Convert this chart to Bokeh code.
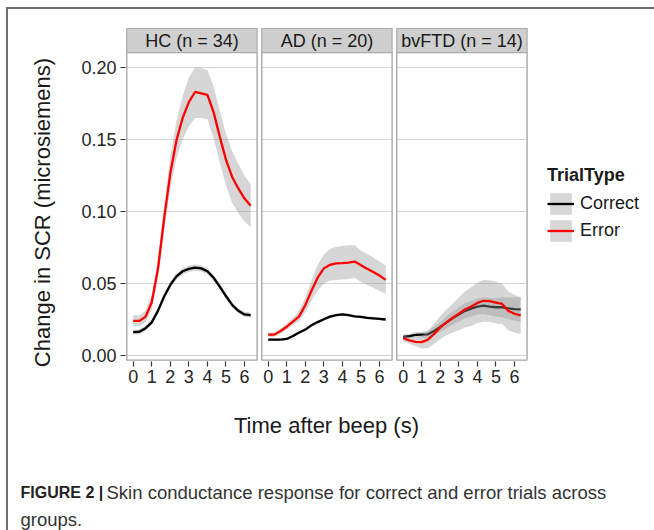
from math import pi
from bokeh.plotting import figure
from bokeh.models import (Range1d, FixedTicker, NumeralTickFormatter, Legend, LegendItem, Label)
from bokeh.embed import file_html
from bokeh.resources import INLINE
from bokeh.core.properties import value

FONT = "Liberation Sans"

# ---------------- data ----------------
time_s = [0.0, 0.333, 0.667, 1.0, 1.333, 1.667, 2.0, 2.333, 2.667, 3.0,
          3.333, 3.667, 4.0, 4.333, 4.667, 5.0, 5.333, 5.667, 6.0, 6.333]
groups = ["HC (n = 34)", "AD (n = 20)", "bvFTD (n = 14)"]
trial_types = ["Correct", "Error"]
y_ticks = [0.0, 0.05, 0.10, 0.15, 0.20]
x_ticks = [0, 1, 2, 3, 4, 5, 6]

hc_correct = [0.0163, 0.0165, 0.0190, 0.0230, 0.0310, 0.0410, 0.0490, 0.0550, 0.0585, 0.0602,
              0.0610, 0.0605, 0.0585, 0.0540, 0.0478, 0.0413, 0.0352, 0.0310, 0.0285, 0.0280]
hc_correct_lo = [0.0145, 0.0147, 0.0171, 0.0211, 0.0290, 0.0389, 0.0468, 0.0528, 0.0563, 0.0580,
                 0.0588, 0.0583, 0.0563, 0.0519, 0.0458, 0.0394, 0.0334, 0.0292, 0.0267, 0.0262]
hc_correct_hi = [0.0181, 0.0183, 0.0209, 0.0249, 0.0330, 0.0431, 0.0512, 0.0572, 0.0607, 0.0624,
                 0.0632, 0.0627, 0.0607, 0.0561, 0.0498, 0.0432, 0.0370, 0.0328, 0.0303, 0.0298]

hc_error = [0.0240, 0.0240, 0.0270, 0.0370, 0.0600, 0.0950, 0.1265, 0.1495, 0.1650, 0.1760,
            0.1830, 0.1820, 0.1810, 0.1690, 0.1520, 0.1360, 0.1240, 0.1160, 0.1090, 0.1040]
hc_error_lo = [0.0205, 0.0205, 0.0230, 0.0320, 0.0530, 0.0860, 0.1160, 0.1370, 0.1500, 0.1590,
               0.1650, 0.1650, 0.1640, 0.1510, 0.1340, 0.1180, 0.1060, 0.0990, 0.0930, 0.0890]
hc_error_hi = [0.0280, 0.0280, 0.0310, 0.0420, 0.0670, 0.1040, 0.1380, 0.1630, 0.1800, 0.1930,
               0.2000, 0.1995, 0.1985, 0.1870, 0.1700, 0.1540, 0.1420, 0.1330, 0.1250, 0.1190]

ad_correct = [0.0110, 0.0110, 0.0110, 0.0115, 0.0135, 0.0160, 0.0180, 0.0210, 0.0232, 0.0252,
              0.0270, 0.0280, 0.0285, 0.0280, 0.0272, 0.0268, 0.0262, 0.0258, 0.0254, 0.0250]
ad_correct_lo = [0.0102, 0.0102, 0.0102, 0.0107, 0.0127, 0.0151, 0.0171, 0.0200, 0.0222, 0.0242,
                 0.0260, 0.0270, 0.0275, 0.0270, 0.0262, 0.0258, 0.0252, 0.0248, 0.0244, 0.0240]
ad_correct_hi = [0.0118, 0.0118, 0.0118, 0.0123, 0.0143, 0.0169, 0.0189, 0.0220, 0.0242, 0.0262,
                 0.0280, 0.0290, 0.0295, 0.0290, 0.0282, 0.0278, 0.0272, 0.0268, 0.0264, 0.0260]

ad_error = [0.0145, 0.0145, 0.0170, 0.0200, 0.0235, 0.0272, 0.0350, 0.0450, 0.0540, 0.0605,
            0.0630, 0.0640, 0.0642, 0.0645, 0.0652, 0.0627, 0.0602, 0.0580, 0.0555, 0.0525]
ad_error_lo = [0.0130, 0.0130, 0.0152, 0.0180, 0.0210, 0.0240, 0.0300, 0.0380, 0.0450, 0.0500,
               0.0520, 0.0525, 0.0528, 0.0532, 0.0540, 0.0510, 0.0490, 0.0470, 0.0448, 0.0428]
ad_error_hi = [0.0160, 0.0160, 0.0188, 0.0220, 0.0260, 0.0310, 0.0400, 0.0520, 0.0630, 0.0700,
               0.0740, 0.0755, 0.0760, 0.0765, 0.0765, 0.0730, 0.0705, 0.0680, 0.0652, 0.0625]

bv_correct = [0.0130, 0.0135, 0.0143, 0.0145, 0.0147, 0.0170, 0.0198, 0.0230, 0.0260, 0.0285,
              0.0310, 0.0325, 0.0340, 0.0347, 0.0340, 0.0335, 0.0335, 0.0328, 0.0322, 0.0320]
bv_correct_lo = [0.0115, 0.0120, 0.0125, 0.0125, 0.0122, 0.0140, 0.0163, 0.0190, 0.0215, 0.0235,
                 0.0258, 0.0270, 0.0284, 0.0289, 0.0280, 0.0270, 0.0265, 0.0253, 0.0242, 0.0235]
bv_correct_hi = [0.0145, 0.0150, 0.0161, 0.0165, 0.0172, 0.0200, 0.0233, 0.0270, 0.0305, 0.0335,
                 0.0362, 0.0380, 0.0396, 0.0405, 0.0400, 0.0400, 0.0405, 0.0403, 0.0402, 0.0405]

bv_error = [0.0120, 0.0105, 0.0095, 0.0093, 0.0110, 0.0150, 0.0195, 0.0230, 0.0260, 0.0290,
            0.0320, 0.0340, 0.0365, 0.0380, 0.0378, 0.0368, 0.0358, 0.0310, 0.0290, 0.0278]
bv_error_lo = [0.0100, 0.0080, 0.0065, 0.0048, 0.0050, 0.0080, 0.0115, 0.0140, 0.0160, 0.0175,
               0.0195, 0.0205, 0.0225, 0.0235, 0.0233, 0.0223, 0.0218, 0.0175, 0.0160, 0.0150]
bv_error_hi = [0.0140, 0.0130, 0.0125, 0.0138, 0.0170, 0.0220, 0.0275, 0.0320, 0.0360, 0.0405,
               0.0445, 0.0475, 0.0505, 0.0525, 0.0523, 0.0513, 0.0498, 0.0445, 0.0420, 0.0406]

series = {
    "HC (n = 34)": {"Correct": (hc_correct, hc_correct_lo, hc_correct_hi),
                    "Error": (hc_error, hc_error_lo, hc_error_hi)},
    "AD (n = 20)": {"Correct": (ad_correct, ad_correct_lo, ad_correct_hi),
                    "Error": (ad_error, ad_error_lo, ad_error_hi)},
    "bvFTD (n = 14)": {"Correct": (bv_correct, bv_correct_lo, bv_correct_hi),
                       "Error": (bv_error, bv_error_lo, bv_error_hi)},
}
line_colors = {"Correct": "#000000", "Error": "#FF0000"}

y_title = "Change in SCR (microsiemens)"
x_title = "Time after beep (s)"
caption_bold = "FIGURE 2 |"
caption_line1 = "Skin conductance response for correct and error trials across"
caption_line2 = "groups."

# ---------------- layout (page pixels; the plot frame fills the whole page) ----------------
W, H = 654, 530
X0PX, XSCALE = 132.7, 18.55                 # px of t=0 in panel 1, px per second
Y0PX, YSCALE = 355.0, 1440.0                # px of y=0, px per unit
STRIDE_PX = 135.0
PANEL_L_PX, PANEL_R_PX = 126.3, 256.6
PANEL_T_PX, PANEL_B_PX, STRIP_T_PX = 52.0, 359.6, 28.0
YAXIS_PX, XAXIS_PX = 125.0, 360.5


def xd(px):
    return (px - X0PX) / XSCALE


def yd(py):
    return (Y0PX - py) / YSCALE


offsets = [j * STRIDE_PX / XSCALE for j in range(len(groups))]

p = figure(width=W, height=H, output_backend="svg", toolbar_location=None, tools="",
           x_range=Range1d(xd(0), xd(W)), y_range=Range1d(yd(H), yd(0)), min_border=0)
p.outline_line_color = None
p.xgrid.visible = False
p.ygrid.visible = False
p.background_fill_alpha = 0
p.border_fill_alpha = 0
# thin frame lines of the figure box (css, behind the transparent canvas)
p.styles = {
    "background-color": "white",
    "background-image": "linear-gradient(#6E6E6E, #6E6E6E), linear-gradient(#6E6E6E, #6E6E6E)",
    "background-size": "100% 2px, 2px 100%",
    "background-position": "6px 7px, 6px 7px",
    "background-repeat": "no-repeat",
}

panel_left = [xd(PANEL_L_PX) + o for o in offsets]
panel_right = [xd(PANEL_R_PX) + o for o in offsets]
panel_top, panel_bottom, strip_top = yd(PANEL_T_PX), yd(PANEL_B_PX), yd(STRIP_T_PX)

# white panel backgrounds
p.quad(left=panel_left, right=panel_right, top=[panel_top] * 3, bottom=[panel_bottom] * 3,
       fill_color="white", line_color=None)

legend_renderers = {}
for j, g in enumerate(groups):
    p.segment(x0=[panel_left[j]] * len(y_ticks), x1=[panel_right[j]] * len(y_ticks),
              y0=y_ticks, y1=y_ticks, line_color="#D3D3D3", line_width=1.2)
    tx = [t + offsets[j] for t in time_s]
    for tt in trial_types:
        mean, lo, hi = series[g][tt]
        rib = p.varea(x=tx, y1=lo, y2=hi, fill_color="#999999", fill_alpha=0.4)
        ln = p.line(tx, mean, line_color=line_colors[tt], line_width=2.3)
        if j == 0:
            legend_renderers[tt] = [rib, ln]
    p.quad(left=[panel_left[j]], right=[panel_right[j]], top=[panel_top], bottom=[panel_bottom],
           fill_alpha=0, line_color="#A3A3A3", line_width=1.3)

# facet strips
p.quad(left=panel_left, right=panel_right, top=[strip_top] * 3, bottom=[panel_top] * 3,
       fill_color="#CFCFCF", line_color="#ABABAB", line_width=1.2)
p.text(x=[(a + b) / 2 for a, b in zip(panel_left, panel_right)],
       y=[(strip_top + panel_top) / 2] * 3, text=groups,
       text_font=value(FONT), text_font_size="18px", text_color="#1A1A1A",
       text_align="center", text_baseline="middle")

# axes, pinned at the panel edges
p.yaxis.fixed_location = xd(YAXIS_PX)
p.xaxis.fixed_location = yd(XAXIS_PX)
p.yaxis.ticker = FixedTicker(ticks=y_ticks)
p.yaxis.formatter = NumeralTickFormatter(format="0.00")
xt = [round(t + o, 6) for o in offsets for t in x_ticks]
p.xaxis.ticker = FixedTicker(ticks=xt)
p.xaxis.major_label_overrides = {round(t + o, 6): str(t) for o in offsets for t in x_ticks}
for ax in (p.xaxis, p.yaxis):
    ax.axis_line_color = None
    ax.minor_tick_line_color = None
    ax.major_tick_in = 0
    ax.major_tick_out = 5
    ax.major_tick_line_color = "#333333"
    ax.major_tick_line_width = 1.2
    ax.major_label_text_font = FONT
    ax.major_label_text_font_size = "18px"
    ax.major_label_text_color = "#262626"
    ax.major_label_standoff = 4


def page_label(text, x, y, **kw):
    p.add_layout(Label(x=x, y=H - y, x_units="screen", y_units="screen", text=text,
                       text_font=FONT, **kw))


# axis titles
page_label(y_title, 42, 212, angle=pi / 2, text_align="center", text_baseline="middle",
           text_font_size="22px", text_color="#1A1A1A")
page_label(x_title, 326, 425, text_align="center", text_baseline="middle",
           text_font_size="22px", text_color="#1A1A1A")

# legend
legend = Legend(items=[LegendItem(label=tt, renderers=legend_renderers[tt]) for tt in trial_types],
                location=(547, H - 244), title="TrialType",
                title_text_font=FONT, title_text_font_size="18px", title_text_font_style="bold",
                title_text_color="#1A1A1A", title_standoff=4,
                label_text_font=FONT, label_text_font_size="18px", label_text_color="#1A1A1A",
                glyph_width=27, glyph_height=27, label_height=27, spacing=0, padding=0,
                margin=0, label_standoff=6, border_line_color=None, background_fill_alpha=0)
p.add_layout(legend)

# caption
page_label(caption_bold, 20, 492, text_font_style="bold", text_font_size="16px",
           text_color="#222222", text_baseline="alphabetic")
page_label(caption_line1, 106, 492, text_font_size="18.5px", text_color="#333333",
           text_baseline="alphabetic")
page_label(caption_line2, 20, 519, text_font_size="18.5px", text_color="#333333",
           text_baseline="alphabetic")

open("out.html", "w").write(file_html(p, INLINE))
